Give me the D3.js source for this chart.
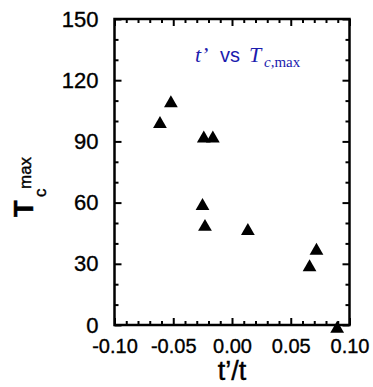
<!DOCTYPE html>
<html>
<head>
<meta charset="utf-8">
<script src="https://cdn.jsdelivr.net/npm/d3@7"></script>
<style>
  body { margin: 0; background: #fff; }
  svg { display: block; }
</style>
</head>
<body>
<svg id="chart"></svg>
<script>
// values
const ratio = [-0.0613, -0.052, -0.024, -0.0163, -0.0251, -0.023, 0.0135, 0.066, 0.0719, 0.0895];
const tcMax = [98.5, 108.7, 91.4, 91.4, 58.3, 48.1, 46.1, 28.3, 36.4, -1.8];
const xTicks = [-0.10, -0.05, 0.00, 0.05, 0.10];
const yTicks = [0, 30, 60, 90, 120, 150];
const xMinor = [-0.09, -0.08, -0.07, -0.06, -0.04, -0.03, -0.02, -0.01, 0.01, 0.02, 0.03, 0.04, 0.06, 0.07, 0.08, 0.09];
const yMinor = [10, 20, 40, 50, 70, 80, 100, 110, 130, 140];

const W = 373, H = 387;
const margin = { top: 19, right: 23.5, bottom: 62, left: 114.5 };
const width = W - margin.left - margin.right;
const height = H - margin.top - margin.bottom;

const svg = d3.select("#chart").attr("width", W).attr("height", H);
const g = svg.append("g").attr("transform", `translate(${margin.left},${margin.top})`);

const x = d3.scaleLinear().domain([-0.10, 0.10]).range([0, width]);
const y = d3.scaleLinear().domain([0, 150]).range([height, 0]);

const font = "'Liberation Sans', Arial, Helvetica, sans-serif";
const serif = "'Liberation Serif', 'Times New Roman', serif";

function styleAxis(sel) {
    sel.select(".domain").remove();
    sel.selectAll("line").attr("stroke", "#000").attr("stroke-width", 2);
}

// major ticks with labels
g.append("g")
    .attr("transform", `translate(0,${height})`)
    .call(d3.axisBottom(x).tickValues(xTicks).tickSizeInner(-7).tickSizeOuter(0).tickPadding(14)
        .tickFormat(d => d.toFixed(2)))
    .call(styleAxis)
    .selectAll("text").style("font-family", font).style("font-size", "20px")
    .attr("fill", "#000").attr("stroke", "#000").attr("stroke-width", 0.35);

g.append("g")
    .call(d3.axisLeft(y).tickValues(yTicks).tickSizeInner(-7).tickSizeOuter(0).tickPadding(16))
    .call(styleAxis)
    .selectAll("text").style("font-family", font).style("font-size", "22px")
    .attr("fill", "#000").attr("stroke", "#000").attr("stroke-width", 0.35);

g.append("g")
    .call(d3.axisTop(x).tickValues(xTicks).tickSizeInner(-7).tickSizeOuter(0).tickFormat(""))
    .call(styleAxis);
g.append("g")
    .attr("transform", `translate(${width},0)`)
    .call(d3.axisRight(y).tickValues(yTicks).tickSizeInner(-7).tickSizeOuter(0).tickFormat(""))
    .call(styleAxis);

// minor ticks on all four sides
g.append("g").attr("transform", `translate(0,${height})`)
    .call(d3.axisBottom(x).tickValues(xMinor).tickSizeInner(-4).tickSizeOuter(0).tickFormat(""))
    .call(styleAxis);
g.append("g")
    .call(d3.axisTop(x).tickValues(xMinor).tickSizeInner(-4).tickSizeOuter(0).tickFormat(""))
    .call(styleAxis);
g.append("g")
    .call(d3.axisLeft(y).tickValues(yMinor).tickSizeInner(-4).tickSizeOuter(0).tickFormat(""))
    .call(styleAxis);
g.append("g").attr("transform", `translate(${width},0)`)
    .call(d3.axisRight(y).tickValues(yMinor).tickSizeInner(-4).tickSizeOuter(0).tickFormat(""))
    .call(styleAxis);

// frame
g.append("rect")
    .attr("width", width).attr("height", height)
    .attr("fill", "none").attr("stroke", "#000").attr("stroke-width", 2.5);

// points
const data = ratio.map((r, i) => ({ r: r, t: tcMax[i] }));
g.selectAll("path.pt")
    .data(data)
    .enter().append("path")
    .attr("class", "pt")
    .attr("transform", d => `translate(${x(d.r)},${y(d.t)})`)
    .attr("d", d3.symbol(d3.symbolTriangle, 82))
    .attr("fill", "#000");

// inset title
const title = svg.append("text")
    .attr("y", 62)
    .attr("fill", "#1c1cae");
title.append("tspan").attr("x", 195)
    .style("font-family", serif)
    .style("font-style", "italic").style("font-size", "22px").text("t’");
title.append("tspan").attr("x", 220)
    .style("font-family", font).style("font-size", "20px").text("vs");
title.append("tspan").attr("x", 249)
    .style("font-family", serif)
    .style("font-style", "italic").style("font-size", "22px").text("T");
title.append("tspan").attr("x", 264).attr("y", 67)
    .style("font-family", serif)
    .style("font-style", "italic").style("font-size", "15px").text("c");
title.append("tspan")
    .style("font-family", serif)
    .style("font-size", "15px").text(",max");

// x axis title
svg.append("text")
    .attr("x", margin.left + x(0))
    .attr("y", 380)
    .attr("text-anchor", "middle")
    .attr("stroke", "#000").attr("stroke-width", 0.4)
    .style("font-family", font).style("font-size", "27px")
    .text("t’/t");

// y axis title: T with subscript c and superscript max
const yt = svg.append("text")
    .attr("transform", "translate(33,218) rotate(-90)")
    .attr("stroke", "#000").attr("stroke-width", 0.4)
    .style("font-family", font);
yt.append("tspan").attr("x", 1).attr("y", 0).style("font-size", "27px").style("font-weight", "bold").text("T");
yt.append("tspan").attr("x", 21).attr("y", 13).style("font-size", "17px").text("c");
yt.append("tspan").attr("x", 29).attr("y", -2).style("font-size", "17px").text("max");
</script>
</body>
</html>
